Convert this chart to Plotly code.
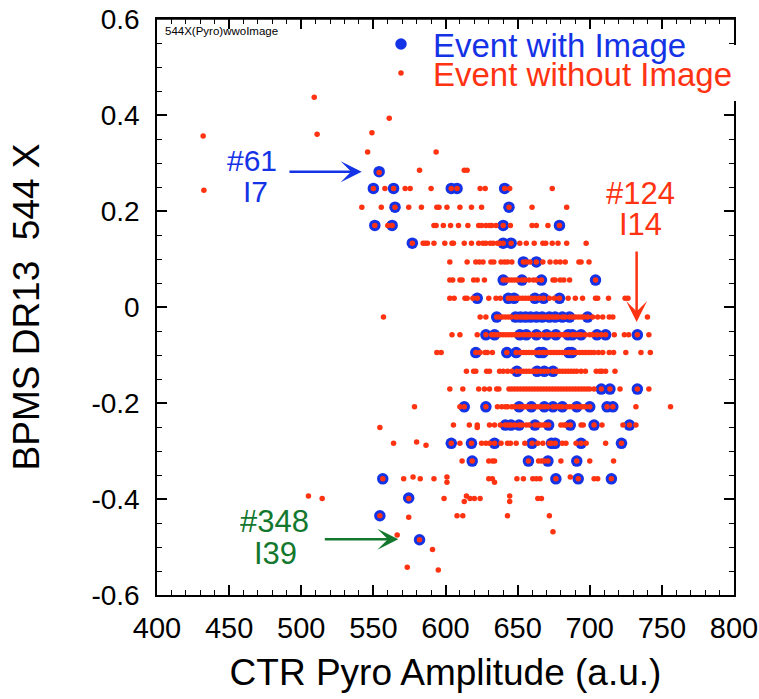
import plotly.graph_objects as go

BLUE = "#1432e6"
RED = "#ff3311"
GREEN = "#13782d"
FONT = "Liberation Sans, Arial, Helvetica, sans-serif"

# ---- data: (BPMS DR13 544 X level, [CTR Pyro Amplitude values]) ----
with_image_rows = [
    (0.282, [554]),
    (0.247, [550, 564, 604, 608, 641]),
    (0.208, [565, 644]),
    (0.170, [551, 563, 640, 679]),
    (0.133, [577, 640, 645.5]),
    (0.094, [654, 663]),
    (0.056, [640, 653, 666.5, 704]),
    (0.018, [622, 643.5, 647.5, 662, 668, 679]),
    (-0.021, [635.5, 648.5, 652, 655.5, 659, 663, 667, 672, 676, 681, 686, 698.5]),
    (-0.058, [628, 634, 651.5, 656, 663, 670, 676.5, 685, 688, 694, 705, 711, 733]),
    (-0.095, [621, 642.5, 649, 665, 667.5, 685.5, 687.5]),
    (-0.134, [649.5, 663.5, 668.5, 674.5]),
    (-0.171, [708, 714, 733]),
    (-0.208, [613, 628, 651, 659.5, 668.5, 674.5, 681, 691, 700, 712, 716]),
    (-0.246, [641.5, 645.5, 651, 662, 671.5, 686.5, 703, 727.5]),
    (-0.284, [604, 618, 634, 660, 673.5, 676, 694, 722]),
    (-0.321, [618.5, 657.5, 671, 691]),
    (-0.358, [556.5, 676.5, 692, 715]),
    (-0.398, [574.5]),
    (-0.435, [554.5]),
    (-0.485, [582]),
]

without_image_rows = [
    (0.437, [509]),
    (0.393, [561]),
    (0.363, [549]),
    (0.360, [511]),
    (0.356, [432]),
    (0.323, [546, 593.5]),
    (0.285, [582, 613, 615]),
    (0.280, [554]),
    (0.247, [550, 558, 564, 572, 575.5, 590, 604, 608, 624, 627.5, 641, 644.5, 674]),
    (0.243, [432.5]),
    (0.208, [542, 555.5, 565, 574.5, 583.3, 594, 595.5, 601, 610, 618, 625, 644, 660, 684]),
    (0.170, [551, 560, 563, 592, 593.5, 598.5, 603.5, 609, 615.5, 623, 625, 628, 630.5,
             632, 635, 640, 645, 660, 663, 671, 679]),
    (0.133, [577, 584.5, 586, 587.5, 592, 599.5, 604.5, 605.5, 613, 618, 623, 626, 628, 631,
             633, 636, 637.5, 640, 645.5, 651.5, 656, 661.5, 667.5, 669.5, 674, 678, 684, 697.5]),
    (0.094, [603, 615, 621, 623.5, 626, 631.5, 633.5, 638.5, 641, 643, 646, 654, 656, 658.5,
             663, 667.5, 672.5, 676.5, 679.5, 683, 692.5, 694, 699.5]),
    (0.056, [603, 605, 610, 611.5, 619.5, 622, 627, 640, 642, 644, 646, 648, 650, 653, 655,
             658, 661, 663, 666.5, 674.5, 676, 679.5, 682, 686, 704]),
    (0.018, [603, 606, 613.5, 615, 619, 622, 630, 635, 638, 643.5, 645.5, 647.5, 649.5, 651.5,
             653.5, 655.5, 657.5, 659.5, 662, 665, 668, 672, 675.5, 679, 685, 690, 695, 704,
             705.5, 713, 724.5, 726.5]),
    (-0.021, [557, 624, 628, 635.5, 637.5, 639.5, 641.5, 643.5, 645.5, 648.5, 650, 652, 654,
              655.5, 657, 659, 661, 663, 665, 667, 669, 671, 672, 674, 676, 678, 681, 683, 686,
              688, 690, 692, 694, 696, 698.5, 702, 705.5, 709, 713.5, 716, 740]),
    (-0.058, [604.5, 610, 622, 628, 632, 634, 636, 638, 640, 642, 644, 646, 648, 650, 651.5,
              654, 656, 658, 660, 663, 665, 667, 670, 672, 674, 676.5, 679, 681, 683, 685, 688,
              690, 692, 694, 697, 700, 702, 705, 708, 711, 717, 724, 727, 733, 741]),
    (-0.095, [594, 597, 621, 624, 627.5, 629, 632.5, 642.5, 649, 652, 654, 656, 658, 660, 662,
              665, 667.5, 669, 671, 673, 675, 677, 679, 681, 683, 685.5, 687.5, 689, 691, 693,
              695, 697, 699, 701, 703, 706, 709, 713.5, 716.5, 725, 735.5, 742]),
    (-0.134, [614.5, 619.5, 621, 628.5, 630.5, 637.5, 640, 643, 646, 649.5, 652, 654, 656, 658,
              660, 662, 663.5, 666, 668.5, 671, 674.5, 677, 679, 681, 683, 685, 687, 689, 691,
              694, 697, 704.5, 707, 708.5, 711, 717.5]),
    (-0.171, [603, 612, 623, 627, 630.5, 635.5, 637, 644, 646, 648, 650, 652, 654, 656, 658,
              660, 662, 664, 666, 668, 670, 672, 674, 676, 678, 680, 682, 684, 686, 688, 690,
              692, 694, 696, 698, 700, 703, 708, 714, 721, 733, 741]),
    (-0.208, [578.5, 610, 613, 628, 636, 639, 641.5, 643, 646, 648, 651, 653, 655, 657, 659.5,
              662, 664, 666, 668.5, 671, 674.5, 677, 679, 681, 684, 686, 688, 691, 693, 695,
              697, 700, 712, 716, 732, 756]),
    (-0.246, [605.5, 616.5, 622, 630.5, 634, 638, 641.5, 643.5, 645.5, 648, 651, 653, 656, 658,
              662, 664, 666, 668, 669.5, 671.5, 680, 682, 683.5, 686.5, 694, 695.5, 703, 708.5,
              723, 727.5, 732]),
    (-0.251, [554.5, 622]),
    (-0.284, [564, 604, 610, 618, 625, 628, 630.5, 634, 638.5, 643, 645, 649, 655, 660, 664,
              667.5, 672, 673.5, 676, 681, 683.5, 690.5, 694, 697.5, 711, 722]),
    (-0.281, [580]),
    (-0.288, [586.5]),
    (-0.321, [611.5, 618.5, 630, 632.5, 634, 657.5, 664.5, 666.5, 668.5, 671, 680, 691, 700,
              716.5]),
    (-0.358, [556.5, 571, 582.5, 592, 630, 632.5, 649.5, 654, 660.5, 663, 665.5, 676.5, 692,
              703, 705.5, 715]),
    (-0.354, [577.5, 601, 686.5]),
    (-0.365, [601, 634]),
    (-0.394, [505, 614.5, 644.5]),
    (-0.399, [514.5, 574.5, 599, 617, 620, 624, 664, 666.5]),
    (-0.405, [613, 644.5]),
    (-0.435, [554.5, 608, 612, 643, 672]),
    (-0.438, [574.5]),
    (-0.468, [674.5]),
    (-0.475, [566.5]),
    (-0.485, [582]),
    (-0.505, [591]),
    (-0.542, [573.5]),
    (-0.548, [595]),
]

x_ticks = [400, 450, 500, 550, 600, 650, 700, 750, 800]
y_ticks = [-0.6, -0.4, -0.2, 0, 0.2, 0.4, 0.6]
y_tick_text = ["-0.6", "-0.4", "-0.2", "0", "0.2", "0.4", "0.6"]


def flatten(rows):
    xs, ys = [], []
    for yv, xv in rows:
        for x in xv:
            xs.append(x)
            ys.append(yv)
    return xs, ys


wx, wy = flatten(with_image_rows)
ox, oy = flatten(without_image_rows)

fig = go.Figure()
fig.add_trace(go.Scatter(
    x=wx, y=wy, mode="markers", name="Event with Image", legend="legend2",
    marker=dict(color=BLUE, size=11.5, line=dict(width=0)),
))
fig.add_trace(go.Scatter(
    x=ox, y=oy, mode="markers", name="Event without Image", legend="legend",
    marker=dict(color=RED, size=5.5, line=dict(width=0)),
))

axis_common = dict(
    showline=True, linecolor="black", linewidth=1.5, mirror="ticks",
    ticks="inside", ticklen=10, tickwidth=1.5, tickcolor="black",
    showgrid=False, zeroline=False, ticklabeloverflow="allow",
)

fig.update_xaxes(
    range=[400, 800], tickmode="array", tickvals=x_ticks,
    ticktext=[str(v) for v in x_ticks],
    minor=dict(ticks="inside", ticklen=5, tickwidth=1.2, tickcolor="black", dtick=10, tick0=400, showgrid=False),
    tickfont=dict(family=FONT, size=29, color="black"),
    title=dict(text="CTR Pyro Amplitude (a.u.)", font=dict(family=FONT, size=37, color="black"), standoff=17),
    ticklabelstandoff=6,
    **axis_common,
)
fig.update_yaxes(
    range=[-0.6, 0.6], tickmode="array", tickvals=y_ticks, ticktext=y_tick_text,
    minor=dict(ticks="inside", ticklen=5, tickwidth=1.2, tickcolor="black", dtick=0.05, tick0=0, showgrid=False),
    tickfont=dict(family=FONT, size=28, color="black"),
    title=dict(text="BPMS DR13  544 X", font=dict(family=FONT, size=37, color="black"), standoff=40),
    ticklabelstandoff=10,
    **axis_common,
)

annotations = [
    # small corner label
    dict(x=0.0099, y=0.979, xref="paper", yref="paper", xanchor="left", yanchor="middle",
         text="544X(Pyro)wwoImage", showarrow=False, font=dict(family=FONT, size=11.5, color="black")),
    # #61 I7
    dict(x=466.2, y=0.306, text="#61", showarrow=False, height=30,
         font=dict(family=FONT, size=30, color=BLUE)),
    dict(x=468.3, y=0.242, text="I7", showarrow=False, height=30,
         font=dict(family=FONT, size=30, color=BLUE)),
    dict(x=541.9, y=0.282, ax=490.8, ay=0.282, axref="x", ayref="y", text="", showarrow=True,
         arrowhead=3, arrowsize=1.4, arrowwidth=2.5, arrowcolor=BLUE),
    # #124 I14
    dict(x=735.1, y=0.238, text="#124", showarrow=False, height=28,
         font=dict(family=FONT, size=31, color=RED)),
    dict(x=735.5, y=0.172, text="I14", showarrow=False, height=28,
         font=dict(family=FONT, size=31, color=RED)),
    dict(x=732.5, y=-0.031, ax=732.5, ay=0.119, axref="x", ayref="y", text="", showarrow=True,
         arrowhead=3, arrowsize=1.4, arrowwidth=2.5, arrowcolor=RED),
    # #348 I39
    dict(x=481.3, y=-0.446, text="#348", showarrow=False, height=30,
         font=dict(family=FONT, size=31, color=GREEN)),
    dict(x=482.1, y=-0.512, text="I39", showarrow=False, height=30,
         font=dict(family=FONT, size=31, color=GREEN)),
    dict(x=567.3, y=-0.484, ax=515.3, ay=-0.484, axref="x", ayref="y", text="", showarrow=True,
         arrowhead=3, arrowsize=1.4, arrowwidth=2.5, arrowcolor=GREEN),
]

# top edge of the frame, drawn explicitly as well
top_edge = dict(type="line", xref="paper", yref="paper", x0=0, x1=1, y0=1, y1=1,
                line=dict(color="black", width=1.5), layer="above")

fig.update_layout(
    width=759, height=699,
    margin=dict(l=157, r=25, t=19, b=104, autoexpand=False),
    plot_bgcolor="white", paper_bgcolor="white",
    font=dict(family=FONT, color="black"),
    showlegend=True,
    # red item: drawn first, white box hides the frame's right edge behind the legend
    legend=dict(x=0.3674, y=0.9549, xref="paper", yref="paper", xanchor="left", yanchor="top",
                itemwidth=54, bgcolor="white", borderwidth=0,
                font=dict(family=FONT, size=33, color=RED)),
    # blue item: drawn on top, transparent
    legend2=dict(x=0.3674, y=1.0052, xref="paper", yref="paper", xanchor="left", yanchor="top",
                 itemwidth=54, bgcolor="rgba(0,0,0,0)", borderwidth=0,
                 font=dict(family=FONT, size=33, color=BLUE)),
    annotations=annotations,
    shapes=[top_edge],
)

# the page body's default 8px margin would push the 759x699 figure out of the window
fig.write_html(
    "out.html",
    config={"displayModeBar": False},
    post_script="document.body.style.margin='0px';document.body.style.overflow='hidden';",
)
